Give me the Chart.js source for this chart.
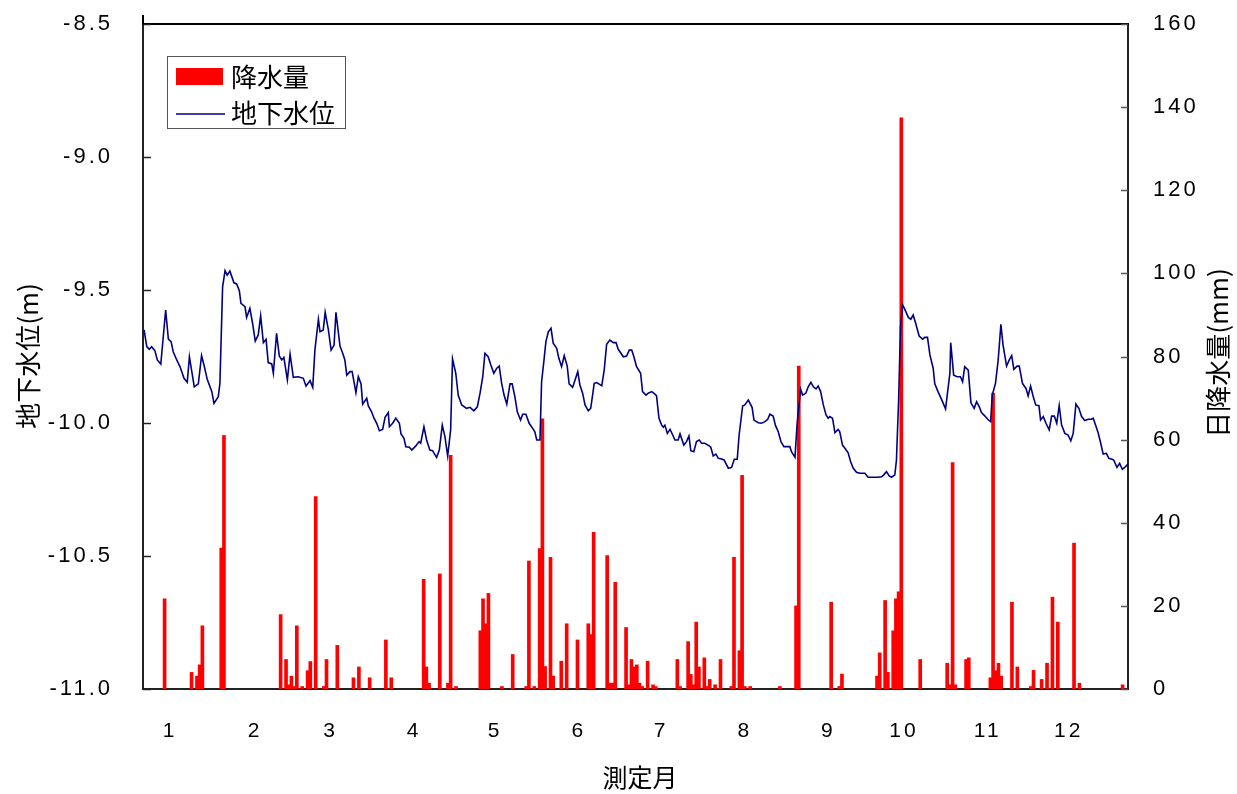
<!DOCTYPE html>
<html><head><meta charset="utf-8">
<script src="https://cdn.jsdelivr.net/npm/chart.js@4.4.1/dist/chart.umd.min.js"></script>
<style>html,body{margin:0;padding:0;background:#fff;}#wrap{width:1237px;height:794px;}</style>
</head><body><div id="wrap"><canvas id="c" width="1237" height="794"></canvas></div>
<script>
// ---- data ----
const monthLabels = ['1','2','3','4','5','6','7','8','9','10','11','12'];
const monthTickDays = [10, 41.5, 69.5, 100.5, 130.5, 161.5, 192, 223, 254, 282, 313, 343];
const levelTicks = [-11.0, -10.5, -10.0, -9.5, -9.0, -8.5];
const rainTicks = [0, 20, 40, 60, 80, 100, 120, 140, 160];

const rainDays = [8,18,20,21,22,29,30,51,53,54,55,56,57,59,61,62,64,67,68,72,78,80,84,90,92,
  104,105,106,110,113,114,116,125,126,127,128,133,137,142,143,145,147,148,149,151,152,155,157,
  161,165,166,167,172,173,174,175,179,180,181,182,183,184,185,187,189,190,198,199,202,203,204,
  205,206,208,209,210,212,214,218,219,221,222,223,225,236,242,243,255,258,259,272,273,275,276,
  278,279,280,281,288,298,299,300,301,305,306,314,315,316,317,318,322,324,329,330,333,335,337,
  339,345,347,363];
const rainMm = [21.7,4.0,3.1,5.8,15.2,33.9,61.0,17.9,7.1,1.0,3.1,0.6,15.2,0.6,4.4,6.6,46.3,0.6,7.1,10.5,2.7,5.3,2.7,11.8,2.7,
  26.4,5.3,1.4,27.7,1.4,56.2,0.6,14.0,21.7,15.7,23.0,0.6,8.3,0.6,30.8,0.6,33.8,65.0,5.4,31.7,3.1,6.7,15.7,
  11.8,15.7,13.1,37.7,32.1,1.4,1.4,25.7,14.8,1.0,7.1,5.3,5.8,1.4,0.6,6.7,1.0,0.6,7.1,0.6,11.4,3.5,1.0,
  16.1,5.3,7.5,0.6,2.3,1.0,7.1,0.6,31.7,9.2,51.4,0.6,0.6,0.6,20.0,77.7,20.9,0.6,3.6,3.1,8.7,21.3,4.0,
  14.0,21.7,23.4,137.4,7.1,6.2,1.0,54.5,1.0,7.1,7.5,2.7,71.2,4.4,6.2,3.1,20.9,5.3,0.6,4.5,2.3,6.2,22.1,
  16.1,35.1,1.4,1.0];

const levelDays = [
  0.4,1.4,2.3,3.2,4.4,5.3,6.6,8.4,9.4,10.4, 11.2,12.5,13.7,15.2,16.4,17.2,18.0,19.0,20.5,21.7,
  22.6,23.8,25.5,26.3,27.9,28.5,29.5,30.4,31.2,32.2, 33.7,34.7,35.7,36.3,37.8,38.4,39.6,40.6,41.6,42.7,
  43.6,44.6,45.6,46.4,47.7,48.3,49.5,50.5,51.4,52.2, 53.5,54.5,55.7,57.5,59.4,60.4,61.9,
  62.9,63.7,65.0,65.6,66.8,67.5,68.7,69.7,70.8,71.5, 73.0,74.0,74.8,75.5,76.7,77.5,78.9,79.8,80.8,81.4,
  82.9,83.5,84.7,85.6,86.6,87.6,88.8,89.7,90.9,91.3, 92.5,93.7,95.0,95.6,96.7,97.4,98.7,99.6,101.1,102.3,
  102.9,104.1,105.1,106.3,107.3,108.8,109.8,110.9,111.9,112.9, 114.0,114.7,115.9,116.8,118.1,119.9,121.2,
  122.6,123.9,124.9,125.9,126.7,127.9,128.9,130.0,131.1,132.0, 132.9,133.8,134.8,136.0,136.8,137.8,138.7,139.9,140.7,141.9,
  143.1,144.4,145.2,145.9,147.1,147.7,148.6,149.3,150.2,151.2, 152.0,153.3,154.1,155.1,156.1,157.2,157.9,159.2,160.1,161.1,
  161.9,162.9,163.8,165.0,165.9,166.6,167.2,168.1,170.0,170.9, 171.8,173.0,174.3,175.3,176.1,178.0,179.2,180.2,
  181.1,181.9,182.9,184.4,185.1,186.4,187.2,188.5,189.7,190.3, 191.2,192.2,192.8,193.4,194.3,195.3,196.3,197.1,198.3,199.0,
  200.4,201.4,202.3,203.0,204.1,205.1,206.1,207.0,208.2,209.8, 210.4,211.3,212.3,213.2,214.4,215.3,216.9,218.1,219.1,220.2,
  220.9,222.2,223.0,224.3,225.7,226.4,228.0,229.2,230.5,231.5, 232.3,233.5,234.4,235.4,236.4,237.5,239.7,
  240.3,241.6,242.4,243.7,244.4,245.6,246.5,247.5,248.4,249.4, 250.2,251.1,252.1,253.1,253.9,254.5,255.5,256.4,257.6,258.2,
  259.2,260.1,261.3,262.2,263.2,264.4,265.6,267.5,268.7,270.6, 272.4,273.7,274.5,275.5,276.5,277.4,278.6,279.2,280.0,280.7,
  281.5,282.3,283.6,284.5,285.4,286.4,287.6,288.9,289.7,290.7, 291.6,292.8,293.4,294.6,295.9,297.4,298.1,299.0,
  299.3,300.4,301.7,302.9,303.7,304.5,305.8,306.8,308.0,308.9, 309.9,310.7,312.0,313.0,314.1,314.7,315.9,316.9,317.9,318.7,
  320.0,321.0,321.9,322.7,323.9,324.7,325.9,327.2,328.0,328.9, 329.9,330.8,332.0,332.6,333.6,334.6,335.8,336.7,337.7,338.6,
  339.5,340.4,341.6,342.8,343.8,344.7,345.7,346.8,347.8,349.0, 350.3,351.5,352.1,353.1,353.9,354.9,355.8,357.0,357.9,359.1,
  359.7,360.9,361.9,362.9,364.1,365.0];
const levelM = [
  -9.650,-9.713,-9.723,-9.713,-9.728,-9.763,-9.778,-9.575,-9.685,-9.694, -9.732,-9.763,-9.788,-9.832,-9.847,-9.751,-9.801,-9.864,-9.853,-9.747,
  -9.782,-9.836,-9.882,-9.926,-9.901,-9.851,-9.488,-9.427,-9.444,-9.429, -9.473,-9.477,-9.503,-9.550,-9.563,-9.603,-9.569,-9.625,-9.692,-9.669,
  -9.597,-9.698,-9.685,-9.773,-9.778,-9.813,-9.663,-9.748,-9.763,-9.753, -9.838,-9.741,-9.828,-9.826,-9.832,-9.861,-9.841,
  -9.866,-9.726,-9.610,-9.657,-9.650,-9.584,-9.650,-9.726,-9.707,-9.584, -9.711,-9.738,-9.763,-9.820,-9.807,-9.807,-9.886,-9.826,-9.853,-9.929,
  -9.907,-9.936,-9.958,-9.982,-10.001,-10.029,-10.024,-9.979,-9.961,-10.014, -10.001,-9.982,-10.001,-10.041,-10.058,-10.089,-10.091,-10.102,-10.086,-10.070,
  -10.076,-10.014,-10.064,-10.102,-10.104,-10.129,-10.102,-10.008,-10.052,-10.124, -10.026,-9.759,-9.813,-9.895,-9.932,-9.945,-9.941,
  -9.954,-9.939,-9.888,-9.826,-9.738,-9.751,-9.782,-9.813,-9.794,-9.786, -9.851,-9.895,-9.929,-9.853,-9.853,-9.901,-9.958,-9.989,-9.967,-9.967,
  -10.001,-10.020,-10.033,-10.064,-10.064,-9.845,-9.763,-9.694,-9.657,-9.644, -9.700,-9.719,-9.757,-9.788,-9.747,-9.786,-9.853,-9.866,-9.838,-9.807,
  -9.857,-9.888,-9.932,-9.954,-9.945,-9.895,-9.851,-9.848,-9.860,-9.801, -9.704,-9.688,-9.698,-9.698,-9.723,-9.751,-9.748,-9.726,
  -9.726,-9.751,-9.788,-9.813,-9.882,-9.895,-9.888,-9.882,-9.891,-9.898, -9.982,-10.008,-10.016,-10.008,-10.039,-10.024,-10.045,-10.064,-10.064,-10.041,
  -10.083,-10.070,-10.049,-10.104,-10.108,-10.070,-10.064,-10.076,-10.076,-10.086, -10.091,-10.124,-10.117,-10.133,-10.135,-10.139,-10.170,-10.167,-10.136,-10.136,
  -10.045,-9.936,-9.932,-9.914,-9.941,-9.989,-9.999,-10.001,-9.995,-9.986, -9.967,-9.974,-10.010,-10.033,-10.070,-10.089,-10.089,
  -10.108,-10.129,-10.001,-9.873,-9.895,-9.888,-9.864,-9.847,-9.864,-9.872, -9.861,-9.882,-9.932,-9.970,-9.982,-9.976,-9.982,-10.036,-10.024,-10.033,
  -10.083,-10.095,-10.112,-10.145,-10.170,-10.185,-10.189,-10.189,-10.204,-10.204, -10.204,-10.202,-10.195,-10.183,-10.199,-10.204,-10.195,-10.139,-9.914,-9.638,
  -9.556,-9.573,-9.603,-9.610,-9.594,-9.628,-9.673,-9.685,-9.678,-9.678, -9.744,-9.794,-9.853,-9.882,-9.911,-9.947,-9.888,-9.813,
  -9.698,-9.820,-9.826,-9.826,-9.845,-9.788,-9.801,-9.924,-9.945,-9.920, -9.939,-9.961,-9.974,-9.986,-9.995,-9.895,-9.851,-9.763,-9.629,-9.707,
  -9.786,-9.763,-9.747,-9.798,-9.786,-9.786,-9.851,-9.870,-9.898,-9.861, -9.901,-9.932,-9.935,-9.989,-9.976,-10.001,-10.026,-9.974,-9.974,-10.001,
  -9.935,-10.008,-10.039,-10.045,-10.067,-10.039,-9.929,-9.945,-9.976,-9.991, -9.986,-9.986,-9.982,-10.011,-10.036,-10.076,-10.117,-10.114,-10.133,-10.136,
  -10.139,-10.167,-10.152,-10.174,-10.164,-10.154];

const rainLabel = '降水量';
const levelLabel = '地下水位';
const yTitle = '地下水位(m)';
const y1Title = '日降水量(mm)';
const xTitle = '測定月';

// ---- rendering ----
const NUM_FONT = '"Liberation Sans", Arial, sans-serif';
const CJK_FONT = '"Noto Sans CJK JP", "Noto Sans CJK SC", sans-serif';

const decor = {
  id: 'decor',
  beforeDraw(chart) { chart.ctx.letterSpacing = '3px'; },
  beforeDatasetsDraw(chart) { chart.ctx.letterSpacing = '0px'; },
  afterDraw(chart) {
    const { ctx, chartArea: a, scales } = chart;
    ctx.save();
    ctx.letterSpacing = '0px';
    const seg = (x1, y1, x2, y2) => { ctx.beginPath(); ctx.moveTo(x1, y1); ctx.lineTo(x2, y2); ctx.stroke(); };
    // frame top + left axis extension
    ctx.strokeStyle = '#000'; ctx.lineWidth = 2;
    seg(a.left - 1, a.top, a.right + 1, a.top);
    seg(a.left, a.top - 9, a.left, a.top);
    // inward ticks
    ctx.lineWidth = 1.5; ctx.strokeStyle = '#222';
    scales.y.ticks.forEach(t => { const p = Math.round(scales.y.getPixelForValue(t.value)) + 0.5; seg(a.left, p, a.left + 8, p); });
    ctx.strokeStyle = '#555';
    scales.y1.ticks.forEach(t => { const p = Math.round(scales.y1.getPixelForValue(t.value)) + 0.5; seg(a.right, p, a.right - 7, p); });
    // axis titles
    ctx.fillStyle = '#000';
    ctx.font = '26px ' + CJK_FONT;
    ctx.textAlign = 'center'; ctx.textBaseline = 'middle';
    ctx.save(); ctx.translate(28, 356); ctx.rotate(-Math.PI / 2); ctx.fillText(yTitle, 0, 0); ctx.restore();
    ctx.save(); ctx.translate(1218, 353); ctx.rotate(-Math.PI / 2); ctx.fillText(y1Title, 0, 0); ctx.restore();
    ctx.font = '25px ' + CJK_FONT;
    ctx.fillText(xTitle, 640, 777);
    // legend
    ctx.lineWidth = 1; ctx.strokeStyle = '#555';
    ctx.strokeRect(167.5, 56.5, 178, 72);
    const ds = chart.data.datasets;
    const bar = ds.find(d => d.type === 'bar'), line = ds.find(d => d.type === 'line');
    ctx.fillStyle = bar.backgroundColor; ctx.fillRect(176, 68, 47, 17);
    ctx.strokeStyle = line.borderColor; ctx.lineWidth = 1.5; seg(176, 114, 225, 114);
    ctx.fillStyle = '#000'; ctx.textAlign = 'left'; ctx.font = '26px ' + CJK_FONT;
    ctx.fillText(bar.label, 231, 77);
    ctx.fillText(line.label, 231, 113);
    ctx.restore();
  }
};

const vFit = w => s => { s.width = w; s.paddingTop = 0; s.paddingBottom = 0; };

new Chart(document.getElementById('c'), {
  type: 'bar',
  data: {
    datasets: [
      { type: 'line', label: levelLabel, yAxisID: 'y', order: 0,
        data: levelDays.map((d, i) => ({ x: d, y: levelM[i] })),
        borderColor: '#000080', borderWidth: 1.6, pointRadius: 0, tension: 0, fill: false },
      { type: 'bar', label: rainLabel, yAxisID: 'y1', order: 1,
        data: rainDays.map((d, i) => ({ x: d, y: rainMm[i] })),
        backgroundColor: '#ff0000', barThickness: 3, borderWidth: 0 }
    ]
  },
  options: {
    responsive: false, animation: false, devicePixelRatio: 1,
    layout: { padding: { top: 24, left: 0, right: 0, bottom: 0 } },
    plugins: { legend: { display: false }, tooltip: { enabled: false } },
    scales: {
      x: {
        type: 'linear', min: 0, max: 365, offset: false,
        grid: { display: false, drawTicks: false },
        border: { display: true, color: '#222', width: 2 },
        afterBuildTicks: s => { s.ticks = monthTickDays.map(v => ({ value: v })); },
        afterFit: s => { s.height = 105; s.paddingLeft = 0; s.paddingRight = 0; },
        ticks: { autoSkip: false, maxRotation: 0, padding: 30, color: '#000',
          font: { family: NUM_FONT, size: 21 }, callback: (v, i) => monthLabels[i] }
      },
      y: {
        type: 'linear', position: 'left', min: -11, max: -8.5,
        grid: { display: false, drawTicks: false },
        border: { display: true, color: '#222', width: 2 },
        afterBuildTicks: s => { s.ticks = levelTicks.map(v => ({ value: v })); },
        afterFit: vFit(143),
        ticks: { padding: 30, color: '#000', font: { family: NUM_FONT, size: 22 },
          callback: v => Number(v).toFixed(1) }
      },
      y1: {
        type: 'linear', position: 'right', min: 0, max: 160,
        grid: { display: false, drawTicks: false },
        border: { display: true, color: '#222', width: 2 },
        afterBuildTicks: s => { s.ticks = rainTicks.map(v => ({ value: v })); },
        afterFit: vFit(109),
        ticks: { padding: 25, color: '#000', font: { family: NUM_FONT, size: 22 },
          callback: v => String(v) }
      }
    }
  },
  plugins: [decor]
});
</script>
</body></html>
